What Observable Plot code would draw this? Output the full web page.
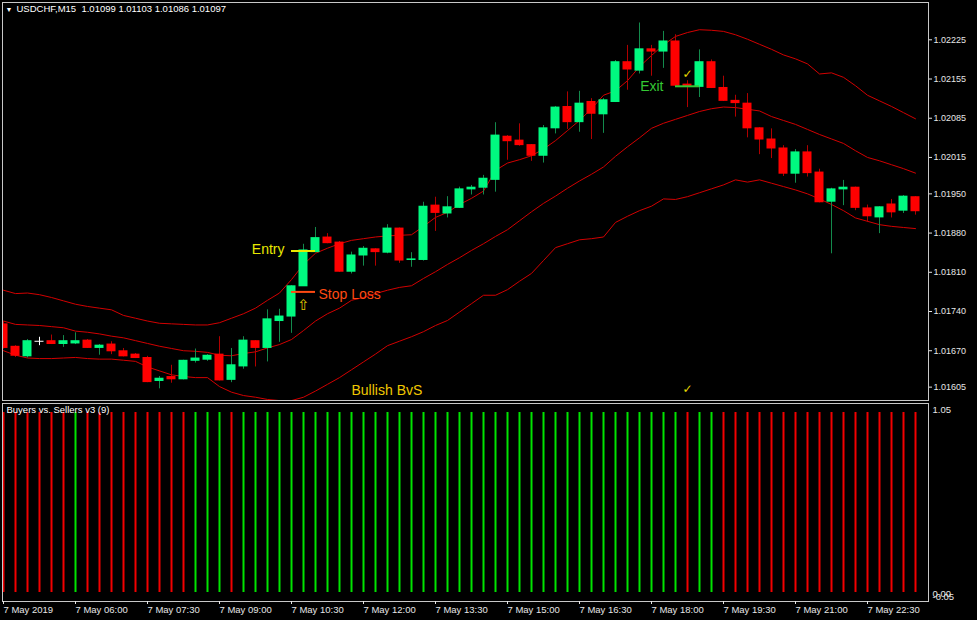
<!DOCTYPE html>
<html><head><meta charset="utf-8">
<script src="https://cdn.jsdelivr.net/npm/d3@7"></script>
<script src="https://cdn.jsdelivr.net/npm/@observablehq/plot@0.6"></script>
<style>
html,body{margin:0;padding:0;background:#000;}
#chart{position:relative;width:977px;height:620px;background:#000;overflow:hidden;}
#chart svg{position:absolute;left:0;overflow:visible;}
</style></head><body><div id="chart"></div>
<script>
// ---- data (USDCHF M15, 7 May 2019, 04:30 .. 23:30) ----
const headerText = "USDCHF,M15\u00a0\u00a01.01099 1.01103 1.01086 1.01097";
const indicatorName = "Buyers vs. Sellers v3 (9)";

const openP  = [1.01717,1.01677,1.01660,1.01686,1.01687,1.01682,1.01683,1.01688,1.01675,1.01681,
                1.01669,1.01663,1.01657,1.01616,1.01623,1.01619,1.01652,1.01654,1.01663,1.01618,
                1.01642,1.01687,1.01675,1.01723,1.01731,1.01785,1.01846,1.01872,1.01863,1.01811,
                1.01840,1.01851,1.01845,1.01888,1.01832,1.01832,1.01929,1.01915,1.01925,1.01958,
                1.01961,1.01975,1.02052,1.02045,1.02037,1.02018,1.02067,1.02105,1.02078,1.02114,
                1.02092,1.02114,1.02185,1.02170,1.02208,1.02204,1.02222,1.02145,1.02141,1.02185,
                1.02139,1.02116,1.02111,1.02067,1.02047,1.02031,1.01986,1.02024,1.01988,1.01936,
                1.01958,1.01961,1.01924,1.01908,1.01931,1.01920,1.01944];
const highP  = [1.01722,1.01679,1.01690,1.01694,1.01698,1.01697,1.01702,1.01690,1.01681,1.01686,
                1.01674,1.01665,1.01660,1.01624,1.01644,1.01653,1.01673,1.01663,1.01695,1.01674,
                1.01695,1.01688,1.01743,1.01744,1.01786,1.01860,1.01890,1.01879,1.01865,1.01846,
                1.01856,1.01852,1.01895,1.01889,1.01845,1.01935,1.01944,1.01945,1.01962,1.01965,
                1.01983,1.02077,1.02054,1.02075,1.02038,1.02072,1.02106,1.02132,1.02133,1.02120,
                1.02120,1.02188,1.02215,1.02255,1.02215,1.02240,1.02234,1.02152,1.02207,1.02189,
                1.02160,1.02126,1.02129,1.02068,1.02066,1.02036,1.02029,1.02036,1.01994,1.01960,
                1.01974,1.01962,1.01930,1.01927,1.01940,1.01947,1.01945];
const lowP   = [1.01673,1.01658,1.01657,1.01679,1.01681,1.01676,1.01681,1.01674,1.01662,1.01663,
                1.01659,1.01656,1.01613,1.01602,1.01612,1.01618,1.01648,1.01651,1.01616,1.01613,
                1.01637,1.01641,1.01650,1.01685,1.01701,1.01785,1.01845,1.01861,1.01810,1.01807,
                1.01821,1.01821,1.01843,1.01826,1.01819,1.01830,1.01883,1.01907,1.01924,1.01948,
                1.01948,1.01953,1.02010,1.02035,1.02008,1.02005,1.02057,1.02065,1.02060,1.02047,
                1.02058,1.02113,1.02135,1.02164,1.02160,1.02174,1.02142,1.02104,1.02122,1.02138,
                1.02115,1.02087,1.02050,1.02020,1.02013,1.01981,1.01969,1.01980,1.01934,1.01843,
                1.01929,1.01920,1.01899,1.01879,1.01907,1.01915,1.01912];
const closeP = [1.01675,1.01661,1.01687,1.01686,1.01682,1.01687,1.01687,1.01675,1.01679,1.01669,
                1.01660,1.01657,1.01614,1.01620,1.01619,1.01652,1.01656,1.01661,1.01617,1.01644,
                1.01688,1.01675,1.01726,1.01731,1.01785,1.01849,1.01871,1.01862,1.01811,1.01840,
                1.01852,1.01846,1.01888,1.01831,1.01833,1.01927,1.01916,1.01926,1.01958,1.01961,
                1.01977,1.02054,1.02044,1.02037,1.02018,1.02067,1.02104,1.02078,1.02111,1.02093,
                1.02117,1.02185,1.02172,1.02208,1.02204,1.02222,1.02143,1.02142,1.02185,1.02139,
                1.02116,1.02112,1.02067,1.02047,1.02031,1.01986,1.02024,1.01987,1.01935,1.01958,
                1.01961,1.01925,1.01910,1.01926,1.01917,1.01945,1.01919];

const bandUpper  = [1.01778,1.01772,1.01773,1.01770,1.01765,1.01759,1.01753,1.01749,1.01746,1.01743,
                    1.01733,1.01728,1.01723,1.01719,1.01718,1.01717,1.01716,1.01716,1.01720,1.01728,
                    1.01736,1.01746,1.01760,1.01773,1.01797,1.01824,1.01844,1.01853,1.01861,1.01867,
                    1.01870,1.01873,1.01875,1.01876,1.01877,1.01892,1.01908,1.01917,1.01931,1.01942,
                    1.01955,1.01992,1.02005,1.02011,1.02018,1.02030,1.02045,1.02063,1.02081,1.02102,
                    1.02126,1.02134,1.02152,1.02177,1.02197,1.02216,1.02231,1.02238,1.02243,1.02242,
                    1.02240,1.02234,1.02226,1.02217,1.02208,1.02198,1.02191,1.02182,1.02164,1.02166,
                    1.02158,1.02143,1.02126,1.02116,1.02106,1.02095,1.02084];
const bandMiddle = [1.01723,1.01717,1.01716,1.01715,1.01713,1.01711,1.01705,1.01703,1.01700,1.01696,
                    1.01693,1.01688,1.01683,1.01678,1.01674,1.01670,1.01669,1.01667,1.01662,1.01661,
                    1.01665,1.01668,1.01675,1.01681,1.01690,1.01706,1.01723,1.01736,1.01746,1.01760,
                    1.01765,1.01772,1.01778,1.01783,1.01786,1.01799,1.01811,1.01824,1.01836,1.01849,
                    1.01861,1.01874,1.01886,1.01902,1.01918,1.01933,1.01946,1.01960,1.01973,1.01985,
                    1.01998,1.02017,1.02034,1.02050,1.02067,1.02076,1.02083,1.02090,1.02097,1.02102,
                    1.02105,1.02104,1.02101,1.02098,1.02088,1.02081,1.02074,1.02065,1.02056,1.02048,
                    1.02040,1.02027,1.02015,1.02009,1.02002,1.01995,1.01987];
const bandLower  = [1.01670,1.01662,1.01657,1.01656,1.01656,1.01657,1.01658,1.01656,1.01655,1.01655,
                    1.01653,1.01651,1.01641,1.01634,1.01627,1.01624,1.01622,1.01622,1.01606,1.01596,
                    1.01590,1.01587,1.01583,1.01581,1.01581,1.01587,1.01598,1.01610,1.01622,1.01636,
                    1.01650,1.01664,1.01679,1.01687,1.01695,1.01704,1.01715,1.01724,1.01739,1.01754,
                    1.01769,1.01769,1.01779,1.01794,1.01808,1.01831,1.01854,1.01861,1.01868,1.01870,
                    1.01873,1.01899,1.01910,1.01920,1.01928,1.01941,1.01940,1.01945,1.01952,1.01959,
                    1.01966,1.01975,1.01971,1.01975,1.01969,1.01963,1.01957,1.01950,1.01941,1.01931,
                    1.01920,1.01907,1.01901,1.01895,1.01892,1.01890,1.01888];

// Buyers vs Sellers: 1 = buyers (green), -1 = sellers (red)
const bvsSignal = [-1,-1,-1,-1,-1,-1, 1,-1,-1,-1,-1,-1,-1,-1,-1,-1, 1, 1, 1,-1,
                    1, 1, 1, 1, 1, 1, 1, 1, 1, 1, 1, 1, 1, 1, 1, 1, 1, 1, 1, 1,
                    1, 1, 1, 1, 1, 1, 1, 1, 1, 1, 1, 1, 1, 1, 1, 1, 1,-1, 1, 1,
                   -1,-1,-1,-1,-1,-1,-1,-1,-1,-1,-1,-1,-1,-1,-1,-1,-1];

const priceTicks = [1.02225,1.02155,1.02085,1.02015,1.01950,1.01880,1.01810,1.01740,1.01670,1.01605];
const timeTickBars = [0,6,12,18,24,30,36,42,48,54,60,66,72];
const timeTickLabels = ["7 May 2019","7 May 06:00","7 May 07:30","7 May 09:00","7 May 10:30","7 May 12:00",
                        "7 May 13:30","7 May 15:00","7 May 16:30","7 May 18:00","7 May 19:30","7 May 21:00","7 May 22:30"];

// trade annotations (bar index, price)
const tradeLevels = [
  {name:"Entry", price:1.01848, from:24, to:26},
  {name:"Stop",  price:1.01775, from:24, to:26},
  {name:"Exit",  price:1.02142, from:56, to:58}
];
const tradeNotes = [
  {text:"Entry",       bar:24, price:1.01851},
  {text:"Stop Loss",   bar:26, price:1.01770},
  {text:"Exit",        bar:56, price:1.02142},
  {text:"Bullish BvS", bar:29, price:1.01599}
];
const arrowMarks = [{glyph:"\u21e7", bar:25, price:1.01751}];
const checkMarks = [
  {glyph:"\u2713", bar:57, price:1.02163},
  {glyph:"\u2713", bar:57, price:1.01601}
];
const indLabels = [1.05, 0.00, -0.05];

// ---- styling ----
const FONT = "'Liberation Sans', Arial, sans-serif";
const BULL = "#00fa80", BEAR = "#ff0000", BULL_WICK = "#138a4c", BEAR_WICK = "#b00000";
const BAND = "#d20000", FRAME = "#c8c8c8", TXT = "#e6e6e6";
const levelColor = {Entry:"#e8e800", Stop:"#ff4a12", Exit:"#34c834"};
const noteStyle = {
  "Entry":       {fill:"#e8e800", anchor:"end",   dx:-7},
  "Stop Loss":   {fill:"#ff4a12", anchor:"start", dx:3},
  "Exit":        {fill:"#34c834", anchor:"end",   dx:-12},
  "Bullish BvS": {fill:"#f0c800", anchor:"start", dx:0}
};

const n = openP.length;
const bars = openP.map((o, i) => ({i, open:o, high:highP[i], low:lowP[i], close:closeP[i],
  kind: closeP[i] > o ? "bull" : closeP[i] < o ? "bear" : "doji"}));
const bands = [bandUpper, bandMiddle, bandLower].flatMap((arr, k) => arr.map((v, i) => ({k, i, v})));
const xDomain = [-1/12, n + 1/12];

const main = Plot.plot({
  width: 977, height: 403,
  marginLeft: 2, marginRight: 49, marginTop: 2, marginBottom: 3,
  style: {background: "#000", color: TXT, fontFamily: FONT, fontSize: "9px"},
  x: {domain: xDomain, axis: null},
  y: {domain: [1.0158115, 1.0229158]},
  marks: [
    Plot.line(bands, {x: "i", y: "v", z: "k", stroke: BAND, strokeWidth: 1, clip: true}),
    Plot.ruleX(bars, {x: "i", y1: "low", y2: "high", clip: true,
      stroke: d => d.kind === "bull" ? BULL_WICK : d.kind === "bear" ? BEAR_WICK : "#ffffff"}),
    Plot.rect(bars, {x1: d => d.i - 0.375, x2: d => d.i + 0.375, y1: "open", y2: "close",
      insetTop: -0.5, insetBottom: -0.5, clip: true,
      fill: d => d.kind === "bull" ? BULL : d.kind === "bear" ? BEAR : "#ffffff"}),
    Plot.ruleY(tradeLevels, {y: "price", x1: "from", x2: "to", stroke: d => levelColor[d.name], strokeWidth: 2}),
    ...tradeNotes.map(d => Plot.text([d], {x: "bar", y: "price", text: "text", fontSize: 14,
      fill: noteStyle[d.text].fill, textAnchor: noteStyle[d.text].anchor, dx: noteStyle[d.text].dx})),
    Plot.text(arrowMarks, {x: "bar", y: "price", text: "glyph", fontSize: 15,
      fontFamily: "'DejaVu Sans', sans-serif", fill: "#e0c800"}),
    Plot.text(checkMarks, {x: "bar", y: "price", text: "glyph", fontSize: 12,
      fontFamily: "'DejaVu Sans', sans-serif", fill: "#e8d800"}),
    Plot.frame({stroke: FRAME}),
    Plot.axisY({anchor: "right", ticks: priceTicks, tickFormat: d => d.toFixed(5), label: null,
      tickSize: 3, tickPadding: 2, fontSize: 9}),
    Plot.text(["\u25bc"], {frameAnchor: "top-left", dx: 3, dy: 5, fontSize: 7, fill: "#ffffff"}),
    Plot.text([headerText], {frameAnchor: "top-left", dx: 14, dy: 3, fontSize: 9.5, fill: "#ffffff"})
  ]
});

const ind = bvsSignal.map((v, i) => ({i, v}));
const indicator = Plot.plot({
  width: 977, height: 218,
  marginLeft: 2, marginRight: 49, marginTop: 1, marginBottom: 19,
  style: {background: "transparent", color: TXT, fontFamily: FONT, fontSize: "9px"},
  x: {domain: xDomain, label: null},
  y: {domain: [-0.05, 1.05], axis: null},
  marks: [
    Plot.ruleX(ind, {x: "i", y1: 0, y2: 1, strokeWidth: 2,
      stroke: d => d.v > 0 ? "#00e400" : "#f20000"}),
    Plot.frame({stroke: FRAME}),
    Plot.text([indicatorName], {frameAnchor: "top-left", dx: 4, dy: 3, fontSize: 9.5, fill: "#ffffff"}),
    Plot.axisX({ticks: timeTickBars, tickFormat: d => timeTickLabels[timeTickBars.indexOf(d)], label: null,
      tickSize: 3, tickPadding: 2, textAnchor: "start", fontSize: 9.5}),
    Plot.text([indLabels[0]], {frameAnchor: "right", y: d => d, text: d => d.toFixed(2), textAnchor: "start", dx: 4, dy: 6, fontSize: 9.5}),
    Plot.text([indLabels[1]], {frameAnchor: "right", y: d => d, text: d => d.toFixed(2), textAnchor: "start", dx: 4, dy: 1, fontSize: 9.5}),
    Plot.text([indLabels[2]], {frameAnchor: "right", y: d => d, text: d => d.toFixed(2), textAnchor: "start", dx: 4, dy: -5, fontSize: 9.5})
  ]
});

const root = document.getElementById("chart");
main.style.top = "0px";
indicator.style.top = "402px";
root.appendChild(main);
root.appendChild(indicator);
</script>
</body></html>
